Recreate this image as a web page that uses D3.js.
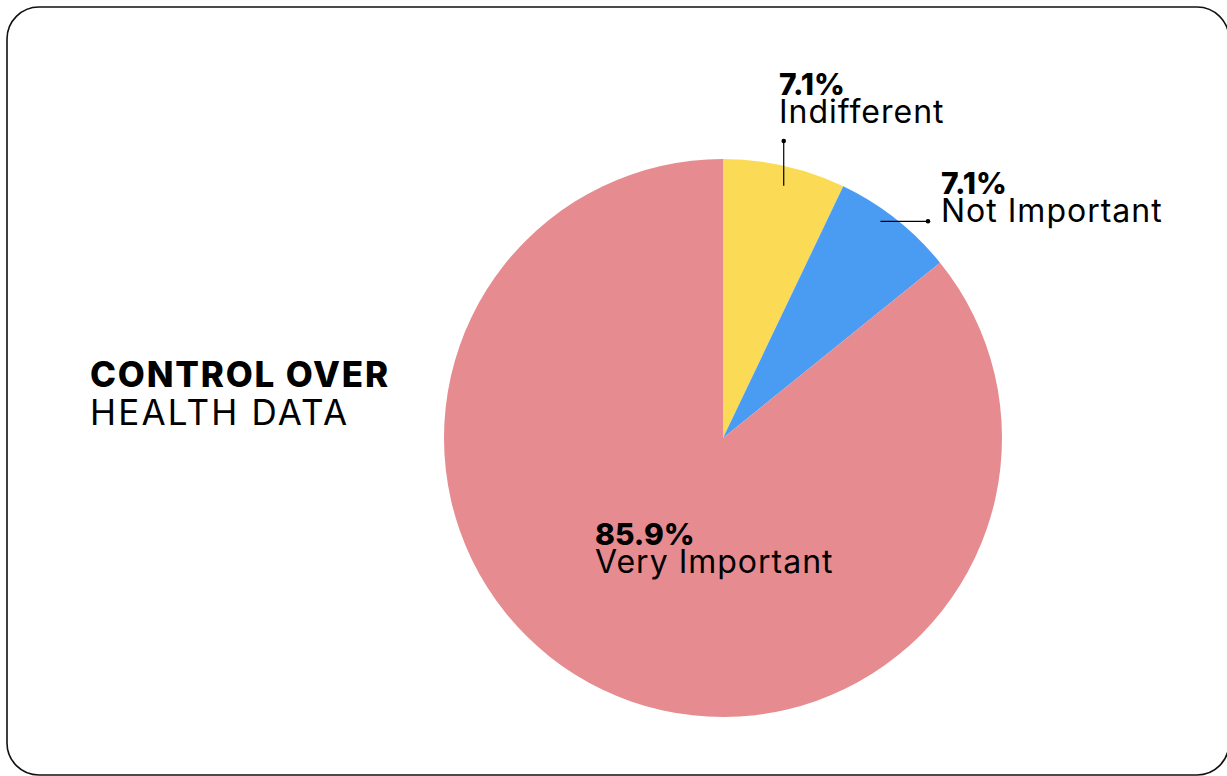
<!DOCTYPE html>
<html>
<head>
<meta charset="utf-8">
<script src="https://cdn.jsdelivr.net/npm/d3@7"></script>
<style>
  body { margin: 0; background: #fff; }
  svg { display: block; font-family: Inter, "Noto Sans", sans-serif; }
</style>
</head>
<body>
<svg id="canvas" width="1227" height="776"></svg>
<script>
// data
var categories = ['Indifferent', 'Not Important', 'Very Important'];
var values = [7.1, 7.1, 85.9];
var colors = ['#fbdb56', '#4a9cf3', '#e68b8f'];
var title = ['CONTROL OVER', 'HEALTH DATA'];

var svg = d3.select('#canvas');
var cx = 723, cy = 438, R = 279;

// card border
svg.append('rect')
  .attr('x', 7).attr('y', 7).attr('width', 1222).attr('height', 768)
  .attr('rx', 32).attr('ry', 32)
  .style('fill', 'none').style('stroke', '#111').style('stroke-width', 1.6);

// title
var t = svg.append('text').style('fill', '#000').style('font-size', '35px').style('letter-spacing', '1.8px');
t.append('tspan').attr('x', 90).attr('y', 387).style('font-weight', 800).text(title[0]);
t.append('tspan').attr('x', 90).attr('y', 425).style('font-weight', 400).style('letter-spacing', '2.2px').text(title[1]);

// pie
var pie = d3.pie().sort(null).value(function(d){ return d; });
var arcs = pie(values);
var arc = d3.arc().innerRadius(0).outerRadius(R);
var g = svg.append('g').attr('transform', 'translate(' + cx + ',' + cy + ')');

g.selectAll('path.slice').data(arcs).enter().append('path')
  .attr('class', 'slice')
  .attr('d', arc)
  .style('fill', function(d, i){ return colors[i]; });

// helper: point inside a slice (f = fraction of slice angle, k = fraction of radius)
function inner(d, f, k){
  var a = d.startAngle + f * (d.endAngle - d.startAngle);
  return [cx + k * R * Math.sin(a), cy - k * R * Math.cos(a)];
}

function label(x, y, pct, name){
  var tx = svg.append('text').style('fill', '#000');
  tx.append('tspan').attr('x', x).attr('y', y)
    .style('font-weight', 800).style('font-size', '30px').text(pct.toFixed(1) + '%');
  tx.append('tspan').attr('x', x).attr('y', y + 28)
    .style('font-weight', 400).style('font-size', '32px').style('letter-spacing', '1px').text(name);
}

// Indifferent: vertical leader
var p0 = inner(arcs[0], 0.53, 0.93);
label(779, 95, values[0], categories[0]);
svg.append('line').attr('x1', p0[0]).attr('y1', p0[1]).attr('x2', p0[0]).attr('y2', 141)
  .style('stroke', '#000').style('stroke-width', 1.2);
svg.append('circle').attr('cx', p0[0]).attr('cy', 141).attr('r', 2.3).style('fill', '#000');

// Not Important: horizontal leader
var p1 = inner(arcs[1], 0.41, 0.96);
label(941, 194, values[1], categories[1]);
svg.append('line').attr('x1', p1[0]).attr('y1', p1[1]).attr('x2', 928).attr('y2', p1[1])
  .style('stroke', '#000').style('stroke-width', 1.2);
svg.append('circle').attr('cx', 928).attr('cy', p1[1]).attr('r', 2.3).style('fill', '#000');

// Very Important: inside slice
label(595, 545, values[2], categories[2]);
</script>
</body>
</html>
